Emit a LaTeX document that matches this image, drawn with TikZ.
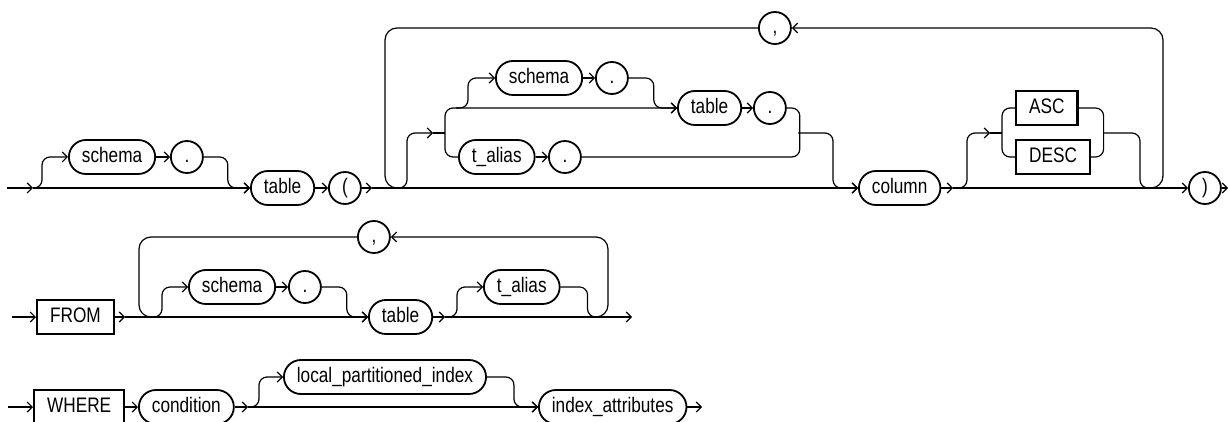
\documentclass[tikz,border=0pt]{standalone}
\usepackage{fontspec}
\setmainfont[FakeStretch=0.82]{Liberation Sans}
\usetikzlibrary{arrows.meta,calc}

\begin{document}
\begin{tikzpicture}[
    x=1pt, y=-1pt,
    line width=1.2pt,
    font=\fontsize{21}{25}\selectfont,
    pill/.style={rectangle, draw, rounded corners=17pt, line width=1.8pt, minimum height=34pt, inner xsep=13pt, text height=15pt, text depth=4pt, anchor=west},
    kw/.style={rectangle, draw, line width=2.2pt, minimum height=34pt, inner xsep=13pt, text height=15pt, text depth=4pt, anchor=west},
    punct/.style={circle, draw, line width=1.8pt, minimum size=32pt, inner sep=0pt, text height=15pt, text depth=4pt, anchor=west},
    arr/.style={-{Straight Barb[length=5pt,width=10pt]}},
    turn/.style={rounded corners=8pt},
    backloop/.style={rounded corners=12pt}
]
\useasboundingbox (0,0) rectangle (1229,422);

% Line 1: table ( column list )
\node[pill] (sch1) at (68,157) {schema};
\node[punct] (dot1) at (170,157) {.};
\node[pill] (tab1) at (250,188) {table};
\node[punct] (lpar) at (328,188) {(};
\node[pill] (sch2) at (495,78) {schema};
\node[punct] (dot2) at (595,78) {.};
\node[pill] (tab2) at (677,108) {table};
\node[punct] (dot3) at (753,108) {.};
\node[pill] (tal1) at (458,157) {t\_alias};
\node[punct] (dot4) at (548,157) {.};
\node[punct] (com1) at (758,28) {,};
\node[pill] (col) at (858,188) {column};
\node[kw] (asc) at (1015,108) {ASC};
\node[kw] (desc) at (1015,157) {DESC};
\node[punct] (rpar) at (1188,188) {)};

\coordinate (in1) at (7,188);
\coordinate (b1) at (33,188);
\coordinate (s1) at (372,188);
\coordinate (lj1) at (385,188);
\coordinate (b6) at (396,188);
\coordinate (q1) at (433,133);
\coordinate (b2) at (456,108);
\coordinate (e1) at (798,133);
\coordinate (s2) at (953,188);
\coordinate (b3) at (955,188);
\coordinate (q2) at (990,133);
\coordinate (e2) at (1103,133);
\coordinate (rj1) at (1150,188);
\coordinate (out1) at (1228,188);

\draw[arr] (in1) -- (b1);
\draw[arr] (b1) -- (tab1.west);
\draw[arr,turn] (b1) -- ++(9,0) |- (sch1.west);
\draw[arr] (sch1) -- (dot1);
\draw[arr,turn] (dot1.east) -- ++(24,0) |- (tab1.west);
\draw[arr] (tab1) -- (lpar);
\draw[arr] (lpar.east) -- (s1);
\draw[arr] (s1) -- (col.west);

% repeat loop
\draw[arr,backloop] (rj1) -- ++(13,0) |- (com1.east);
\draw[backloop] (com1.west) -| (lj1) -- ++(13,0);

% qualifier
\draw[arr,turn] (b6) -- ++(11,0) |- (q1);
\draw (q1) -- ++(12,0);
\draw[arr,turn] (tal1.west) -- ++(-13,0) |- (tab2.west);
\draw[arr,turn] (b2) -- ++(12,0) |- (sch2.west);
\draw[arr] (sch2) -- (dot2);
\draw[arr,turn] (dot2.east) -- ++(25,0) |- (tab2.west);
\draw[arr] (tab2) -- (dot3);
\draw[arr] (tal1) -- (dot4);
\draw[turn] (dot3.east) -- ++(13,0) |- (dot4.east);
\draw[arr,turn] (e1) -- ++(35,0) |- (col.west);

% sort order
\draw[arr] (col.east) -- (s2);
\draw[arr] (s2) -- (rpar.west);
\draw[arr,turn] (b3) -- ++(12,0) |- (q2);
\draw (q2) -- ++(12,0);
\draw[turn] (asc.west) -- ++(-13,0) |- (desc.west);
\draw[turn] (asc.east) -- ++(25,0) |- (desc.east);
\draw[turn] (e2) -- ++(37,0) |- ($(rj1)+(2,0)$);
\draw[arr] (rpar.east) -- (out1);

% Line 2: FROM list
\node[kw] (from) at (36,317) {FROM};
\node[pill] (sch3) at (188,287) {schema};
\node[punct] (dot5) at (288,287) {.};
\node[pill] (tab3) at (368,317) {table};
\node[pill] (tal2) at (483,287) {t\_alias};
\node[punct] (com2) at (357,237) {,};

\coordinate (in2) at (12,317);
\coordinate (s3) at (125,317);
\coordinate (lj2) at (139,317);
\coordinate (b4) at (151,317);
\coordinate (s4) at (445,317);
\coordinate (rj2) at (596,317);
\coordinate (out2) at (632,317);

\draw[arr] (in2) -- (from.west);
\draw[arr] (from.east) -- (s3);
\draw[arr] (s3) -- (tab3.west);
\draw[arr,backloop] (rj2) -- ++(12,0) |- (com2.east);
\draw[backloop] (com2.west) -| (lj2) -- ++(13,0);
\draw[arr,turn] (b4) -- ++(11,0) |- (sch3.west);
\draw[arr] (sch3) -- (dot5);
\draw[arr,turn] (dot5.east) -- ++(25,0) |- (tab3.west);
\draw[arr] (tab3.east) -- (s4);
\draw[arr] (s4) -- (out2);
\draw[arr,turn] (s4) -- ++(12,0) |- (tal2.west);
\draw[turn] (tal2.east) -- ++(27,0) |- ($(rj2)+(2,0)$);

% Line 3: WHERE clause
\node[kw] (where) at (33,407) {WHERE};
\node[pill] (cond) at (138,407) {condition};
\node[pill] (loc) at (283,377) {local\_partitioned\_index};
\node[pill] (idx) at (538,407) {index\_attributes};

\coordinate (in3) at (8,407);
\coordinate (s5) at (248,407);
\coordinate (out3) at (702,407);

\draw[arr] (in3) -- (where.west);
\draw[arr] (where) -- (cond);
\draw[arr] (cond.east) -- (s5);
\draw[arr] (s5) -- (idx.west);
\draw[arr,turn] (s5) -- ++(11,0) |- (loc.west);
\draw[arr,turn] (loc.east) -- ++(27,0) |- (idx.west);
\draw[arr] (idx.east) -- (out3);
\end{tikzpicture}
\end{document}
